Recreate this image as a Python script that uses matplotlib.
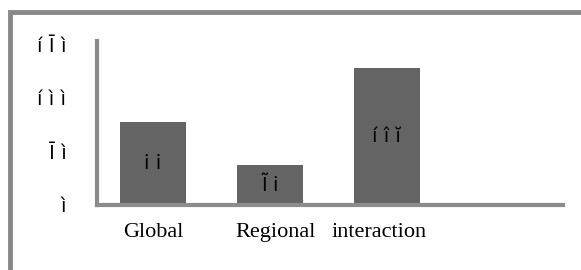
import matplotlib
matplotlib.use("Agg")
import matplotlib.pyplot as plt
import matplotlib.transforms as mtransforms
from matplotlib.patches import Rectangle

# data
categories = ["Global", "Regional", "interaction"]
values = [77, 37, 128]
bar_labels = ["i i", "Ĩ i", "í î ĭ"]
ytick_vals = [0, 50, 100, 150]
ytick_labels = ["ì", "Ī ì", "í ì ì", "í Ī ì"]

fig = plt.figure(figsize=(5.81, 2.70), dpi=100)
ax = fig.add_axes([0.167, 0.241, 0.802, 0.607])

x = range(len(categories))
bars = ax.bar(x, values, width=0.565, color="#646464")

for b, lab in zip(bars, bar_labels):
    ax.text(b.get_x() + b.get_width() / 2, b.get_height() / 2, lab,
            ha="center", va="center", fontsize=14, color="black",
            family="DejaVu Sans")

ax.set_xlim(-0.48, 3.51)
ax.set_ylim(0, 153)
ax.set_xticks(list(x))
ax.set_xticklabels(categories, family="Liberation Serif", fontsize=16)
ax.set_yticks(ytick_vals)
ax.set_yticklabels(ytick_labels, family="DejaVu Sans", fontsize=14)
ax.tick_params(axis="both", length=0)
ax.tick_params(axis="x", pad=13)
ax.tick_params(axis="y", pad=22)

# the two right labels sit closer together, as one phrase
shifts = [0, 6, -8]
for lab, dx in zip(ax.get_xticklabels(), shifts):
    lab.set_transform(lab.get_transform() +
                      mtransforms.ScaledTranslation(dx / 100, 0, fig.dpi_scale_trans))

for s in ["top", "right"]:
    ax.spines[s].set_visible(False)
for s in ["left", "bottom"]:
    ax.spines[s].set_color("#8c8c8c")
    ax.spines[s].set_linewidth(3)

# outer frame
fig.add_artist(Rectangle((10 / 581, -0.1), 1.1, 1.1 - 12 / 270,
                         transform=fig.transFigure, fill=False,
                         edgecolor="#888888", linewidth=3.5))

fig.savefig("out.png", dpi=100)
